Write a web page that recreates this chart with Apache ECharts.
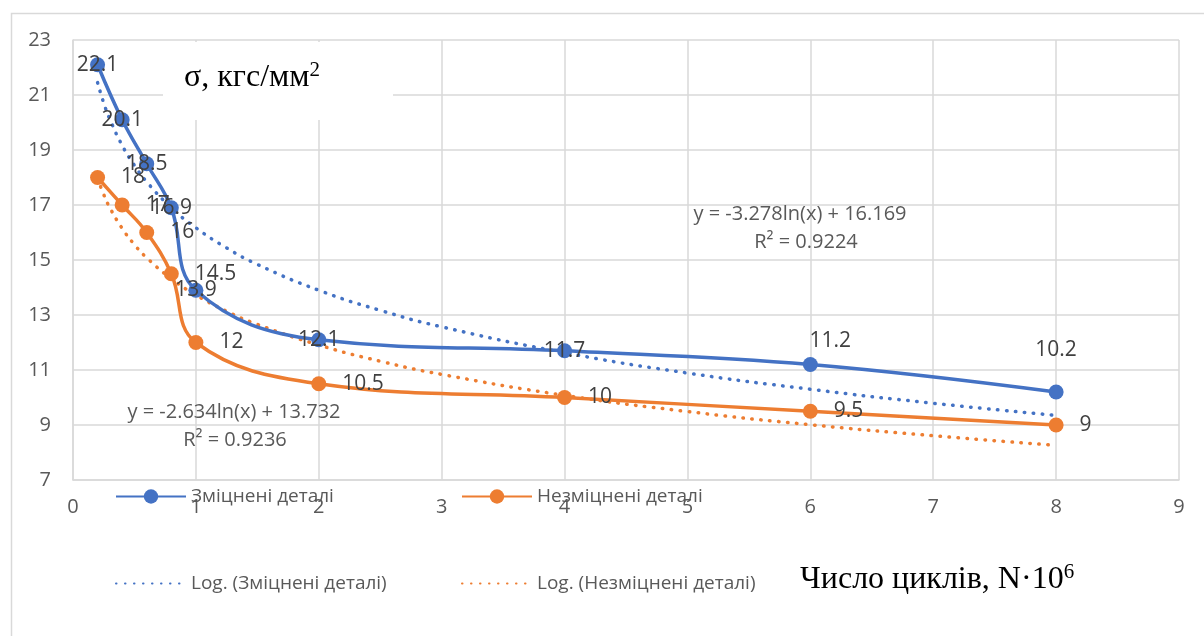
<!DOCTYPE html>
<html>
<head>
<meta charset="utf-8">
<script src="https://cdn.jsdelivr.net/npm/echarts@6/dist/echarts.min.js"></script>
<style>
    html, body { margin: 0; padding: 0; background: #fff; }
    #chart { width: 1204px; height: 636px; }
</style>
</head>
<body>
<div id="chart"></div>
<script>
// дані з графіка
const cycles = [0.2, 0.4, 0.6, 0.8, 1, 2, 4, 6, 8];
const strengthened = [22.1, 20.1, 18.5, 16.9, 13.9, 12.1, 11.7, 11.2, 10.2];
const unstrengthened = [18, 17, 16, 14.5, 12, 10.5, 10, 9.5, 9];

// логарифмічні тренди (точки зчитані з кривих)
const trendX = [0.2, 0.25, 0.3, 0.4, 0.5, 0.6, 0.8, 1, 1.25, 1.5, 2, 2.5, 3, 4, 5, 6, 7, 8];
const trendStrengthened = [21.45, 20.71, 20.12, 19.17, 18.44, 17.84, 16.90, 16.17, 15.44, 14.84, 13.90, 13.17, 12.57, 11.63, 10.89, 10.30, 9.79, 9.35];
const trendUnstrengthened = [17.97, 17.38, 16.90, 16.15, 15.56, 15.08, 14.32, 13.73, 13.14, 12.66, 11.91, 11.32, 10.84, 10.08, 9.49, 9.01, 8.61, 8.26];

const xTicks = [0, 1, 2, 3, 4, 5, 6, 7, 8, 9];
const yTicks = [7, 9, 11, 13, 15, 17, 19, 21, 23];

const names = ['Зміцнені деталі', 'Незміцнені деталі', 'Log. (Зміцнені деталі)', 'Log. (Незміцнені деталі)'];

const BLUE = '#4472C4';
const ORANGE = '#ED7D31';
const FONT = 'Open Sans';

// розташування підписів синьої серії
const blueLabelPos = ['inside', 'inside', 'inside', 'inside', 'inside', 'inside', 'inside', 'top', 'top'];

const chart = echarts.init(document.getElementById('chart'));

const pairs = (xs, ys) => xs.map((x, i) => [x, ys[i]]);

const blueData = cycles.map((x, i) => {
    const item = { value: [x, strengthened[i]], label: { position: blueLabelPos[i] } };
    if (i === 7) item.label.offset = [20, 0];
    if (i === 8) item.label.distance = 24;
    return item;
});

const labelStyle = {
    show: true,
    color: '#404040',
    fontFamily: FONT,
    fontSize: 21
};

function legendAt(name, left, top, hideSymbol) {
    const lg = {
        data: [name],
        left: left,
        top: top,
        itemWidth: 70,
        itemHeight: 18,
        itemGap: 6,
        textStyle: { color: '#595959', fontFamily: FONT, fontSize: 19 },
        selectedMode: false
    };
    if (hideSymbol) lg.itemStyle = { opacity: 0 };
    return lg;
}

const eqFont = '20px "Open Sans"';

const option = {
    animation: false,
    backgroundColor: '#fff',
    grid: { left: 73, right: 25, top: 40, bottom: 156 },
    legend: [
        legendAt(names[0], 110, 482),
        legendAt(names[1], 456, 482),
        legendAt(names[2], 110, 569, true),
        legendAt(names[3], 456, 569, true)
    ],
    xAxis: {
        type: 'value',
        min: xTicks[0],
        max: xTicks[xTicks.length - 1],
        interval: 1,
        axisLine: { lineStyle: { color: '#d9d9d9', width: 1.5 } },
        axisTick: { show: false },
        axisLabel: { color: '#595959', fontFamily: FONT, fontSize: 20, margin: 17 },
        splitLine: { lineStyle: { color: '#d9d9d9', width: 1.5 } }
    },
    yAxis: {
        type: 'value',
        min: yTicks[0],
        max: yTicks[yTicks.length - 1],
        interval: 2,
        axisLine: { show: true, lineStyle: { color: '#d9d9d9', width: 1.5 } },
        axisTick: { show: false },
        axisLabel: { color: '#595959', fontFamily: FONT, fontSize: 20, margin: 22 },
        splitLine: { lineStyle: { color: '#d9d9d9', width: 1.5 } }
    },
    graphic: [
        // рамка області діаграми
        { type: 'rect', left: 9, top: 11, shape: { width: 1220, height: 640 },
          style: { fill: 'none', stroke: '#d9d9d9', lineWidth: 1.5 }, z: -10 },
        // підпис осі Y
        { type: 'rect', shape: { x: 163, y: 42, width: 230, height: 78 },
          style: { fill: '#fff' }, z: 5 },
        { type: 'text', x: 184, y: 78, z: 6,
          style: {
              text: '{a|σ, кгс/мм}{s|2}',
              verticalAlign: 'middle',
              rich: {
                  a: { fontFamily: 'Liberation Serif', fontSize: 32, color: '#000' },
                  s: { fontFamily: 'Liberation Serif', fontSize: 21, color: '#000', padding: [0, 0, 16, 0] }
              }
          } },
        // підпис осі X
        { type: 'text', x: 800, y: 580, z: 6,
          style: {
              text: '{a|Число циклів, N·10}{s|6}',
              verticalAlign: 'middle',
              rich: {
                  a: { fontFamily: 'Liberation Serif', fontSize: 32, color: '#000' },
                  s: { fontFamily: 'Liberation Serif', fontSize: 21, color: '#000', padding: [0, 0, 16, 0] }
              }
          } },
        // рівняння трендів
        { type: 'text', x: 800, y: 214, z: 6,
          style: { text: 'y = -3.278ln(x) + 16.169', fill: '#595959', font: eqFont, textAlign: 'center', textVerticalAlign: 'middle' } },
        { type: 'text', x: 806, y: 242, z: 6,
          style: { text: 'R² = 0.9224', fill: '#595959', font: eqFont, textAlign: 'center', textVerticalAlign: 'middle' } },
        { type: 'text', x: 234, y: 412, z: 6,
          style: { text: 'y = -2.634ln(x) + 13.732', fill: '#595959', font: eqFont, textAlign: 'center', textVerticalAlign: 'middle' } },
        { type: 'text', x: 235, y: 440, z: 6,
          style: { text: 'R² = 0.9236', fill: '#595959', font: eqFont, textAlign: 'center', textVerticalAlign: 'middle' } }
    ],
    series: [
        {
            name: names[2],
            type: 'line',
            data: pairs(trendX, trendStrengthened),
            smooth: true,
            symbol: 'none',
            itemStyle: { color: BLUE },
            lineStyle: { color: BLUE, width: 3.5, type: [0.5, 8.5], cap: 'round' },
            z: 2
        },
        {
            name: names[3],
            type: 'line',
            data: pairs(trendX, trendUnstrengthened),
            smooth: true,
            symbol: 'none',
            itemStyle: { color: ORANGE },
            lineStyle: { color: ORANGE, width: 3.5, type: [0.5, 8.5], cap: 'round' },
            z: 2
        },
        {
            name: names[0],
            type: 'line',
            data: blueData,
            smooth: 0.4,
            symbol: 'circle',
            symbolSize: 15,
            itemStyle: { color: BLUE },
            lineStyle: { color: BLUE, width: 3.5 },
            label: Object.assign({}, labelStyle),
            z: 3
        },
        {
            name: names[1],
            type: 'line',
            data: pairs(cycles, unstrengthened),
            smooth: 0.4,
            symbol: 'circle',
            symbolSize: 15,
            itemStyle: { color: ORANGE },
            lineStyle: { color: ORANGE, width: 3.5 },
            label: Object.assign({}, labelStyle, { position: 'right', distance: 16 }),
            z: 3
        }
    ]
};

chart.setOption(option);
</script>
</body>
</html>
